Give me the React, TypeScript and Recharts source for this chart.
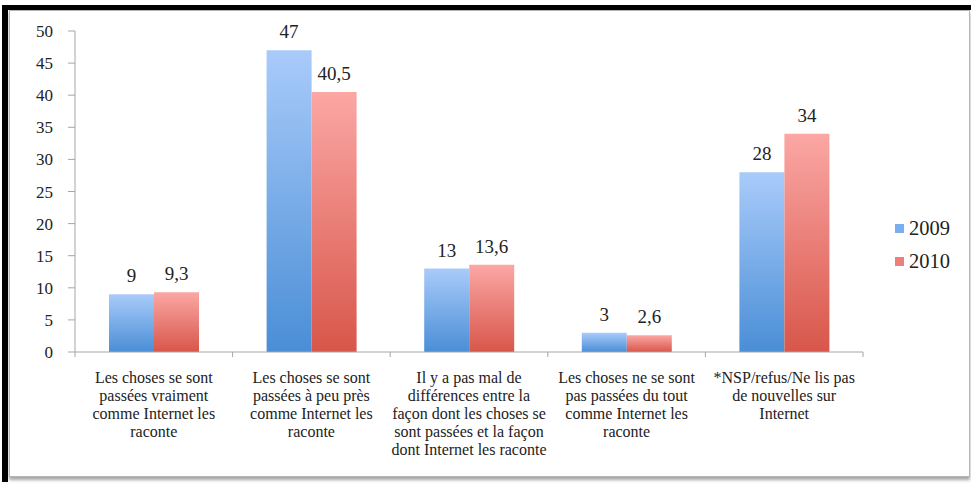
import { BarChart, Bar, XAxis, YAxis, Legend, LabelList } from 'recharts';

// Answers per category, split into the lines printed under the axis
const categoryLines = [
  ['Les choses se sont', 'passées vraiment', 'comme Internet les', 'raconte'],
  ['Les choses se sont', 'passées à peu près', 'comme Internet les', 'raconte'],
  ['Il y a pas mal de', 'différences entre la', 'façon dont les choses se', 'sont passées et la façon', 'dont Internet les raconte'],
  ['Les choses ne se sont', 'pas passées du tout', 'comme Internet les', 'raconte'],
  ['*NSP/refus/Ne lis pas', 'de nouvelles sur', 'Internet'],
];
const categories = categoryLines.map(lines => lines.join(' '));

const values2009 = [9, 47, 13, 3, 28];
const values2010 = [9.3, 40.5, 13.6, 2.6, 34];

const yTicks = [0, 5, 10, 15, 20, 25, 30, 35, 40, 45, 50];

const data = categories.map((name, i) => ({
  name,
  y2009: values2009[i],
  y2010: values2010[i],
}));

const FONT = "'Liberation Serif'";
const AXIS = '#a6a6a6';

const W = 971;
const H = 485;
const PLOT_LEFT = 75;
const PLOT_RIGHT = 863;
const HALF_BAND = (PLOT_RIGHT - PLOT_LEFT) / categories.length / 2;

const fmt = (v: any) => String(v).replace('.', ',');

// category label plus the boundary tick marks between groups
const CategoryTick = (props: any) => {
  const { x, y, index } = props;
  const lines: string[] = categoryLines[index] || [];
  return (
    <g>
      <line x1={x - HALF_BAND} y1={y - 8} x2={x - HALF_BAND} y2={y - 3} stroke={AXIS} />
      {index === categories.length - 1 && (
        <line x1={x + HALF_BAND} y1={y - 8} x2={x + HALF_BAND} y2={y - 3} stroke={AXIS} />
      )}
      <text x={x} y={y + 23} textAnchor="middle" fontFamily={FONT} fontSize={16} fill="#222">
        {lines.map((l, i) => (
          <tspan key={i} x={x} dy={i === 0 ? 0 : 17.9}>{l}</tspan>
        ))}
      </text>
    </g>
  );
};

const LegendBox = () => (
  <div style={{ fontFamily: FONT, fontSize: 20.5, color: '#222' }}>
    {[
      { label: '2009', color: '#7aaeee' },
      { label: '2010', color: '#ee7f7a' },
    ].map(item => (
      <div key={item.label} style={{ display: 'flex', alignItems: 'center', height: 33 }}>
        <span style={{ width: 9, height: 9, background: item.color, display: 'inline-block', marginRight: 5 }} />
        {item.label}
      </div>
    ))}
  </div>
);

export default function App() {
  return (
    <div style={{ position: 'absolute', left: 0, top: 0, width: W, height: H, background: '#fff', overflow: 'hidden', fontFamily: FONT }}>
      {/* black frame on the top and left edges */}
      <div style={{ position: 'absolute', left: 2, top: 5, width: W - 2, height: 5, background: '#000' }} />
      <div style={{ position: 'absolute', left: 2, top: 5, width: 6, height: 477, background: '#000' }} />
      {/* inner panel with soft bottom shadow */}
      <div
        style={{
          position: 'absolute',
          left: 9,
          top: 10,
          width: 959,
          height: 465,
          border: '1px solid #b5b5b5',
          boxShadow: '0 3px 3px rgba(0,0,0,0.35)',
          background: '#fff',
        }}
      />
      <div style={{ position: 'absolute', left: 0, top: 0 }}>
        <BarChart
          width={W}
          height={H}
          data={data}
          margin={{ top: 31, right: W - PLOT_RIGHT, bottom: 10, left: 0 }}
          barSize={45}
          barGap={0}
        >
          <defs>
            <linearGradient id="blueFill" x1="0" y1="0" x2="0" y2="1">
              <stop offset="0%" stopColor="#a9cbfa" />
              <stop offset="100%" stopColor="#4a8ed6" />
            </linearGradient>
            <linearGradient id="redFill" x1="0" y1="0" x2="0" y2="1">
              <stop offset="0%" stopColor="#fba7a4" />
              <stop offset="100%" stopColor="#d8564a" />
            </linearGradient>
          </defs>
          <XAxis
            dataKey="name"
            height={123}
            interval={0}
            stroke={AXIS}
            tickLine={false}
            tick={<CategoryTick />}
          />
          <YAxis
            width={PLOT_LEFT}
            domain={[0, 50]}
            ticks={yTicks}
            interval={0}
            stroke={AXIS}
            tickSize={7}
            tickMargin={15}
            tick={{ fontSize: 17, fill: '#222', fontFamily: FONT }}
          />
          <Legend
            layout="vertical"
            align="center"
            verticalAlign="middle"
            content={<LegendBox />}
            wrapperStyle={{ left: 895, top: 212, width: 74 }}
          />
          <Bar dataKey="y2009" name="2009" fill="url(#blueFill)" isAnimationActive={false}>
            <LabelList dataKey="y2009" position="top" offset={12} formatter={fmt} fontSize={19} fill="#222" fontFamily={FONT} />
          </Bar>
          <Bar dataKey="y2010" name="2010" fill="url(#redFill)" isAnimationActive={false}>
            <LabelList dataKey="y2010" position="top" offset={12} formatter={fmt} fontSize={19} fill="#222" fontFamily={FONT} />
          </Bar>
        </BarChart>
      </div>
    </div>
  );
}
